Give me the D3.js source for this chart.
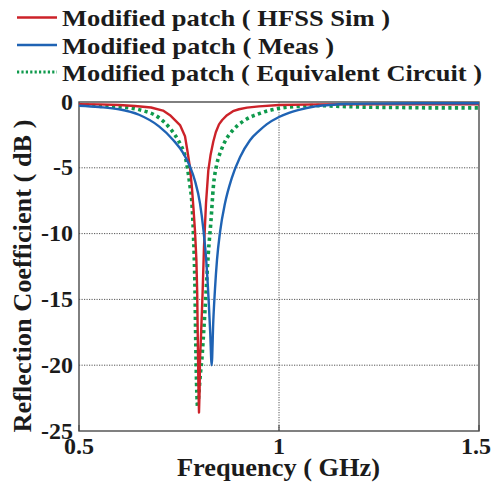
<!DOCTYPE html>
<html>
<head>
<meta charset="utf-8">
<script src="https://cdn.jsdelivr.net/npm/d3@7"></script>
<style>
  html, body { margin: 0; padding: 0; background: #fff; }
  svg { display: block; }
  text { font-family: "Liberation Serif", "Times New Roman", serif; font-weight: bold; fill: #1b1b1b; }
</style>
</head>
<body>
<div id="chart"></div>
<script>
// Reflection coefficient of the modified patch antenna: simulation, measurement and circuit model.
const seriesNames = [
  "Modified patch ( HFSS Sim )",
  "Modified patch ( Meas )",
  "Modified patch ( Equivalent Circuit )"
];

const xTicks = [0.5, 1, 1.5];
const xTickLabels = ["0.5", "1", "1.5"];
const yTicks = [0, -5, -10, -15, -20, -25];
const yTickLabels = ["0", "-5", "-10", "-15", "-20", "-25"];

// HFSS simulation (GHz, dB)
const freqSim = [0.50, 0.55, 0.60, 0.64, 0.68, 0.71, 0.7275, 0.7525, 0.765, 0.771, 0.7775, 0.782,
  0.786, 0.79, 0.7935, 0.7955, 0.797, 0.7985, 0.80, 0.8015, 0.8025, 0.805, 0.809, 0.8125, 0.8175,
  0.8233, 0.829, 0.8358, 0.842, 0.85, 0.858, 0.87, 0.885, 0.90, 0.92, 0.95, 1.0, 1.1, 1.2, 1.3, 1.4, 1.5];
const s11Sim = [-0.17, -0.18, -0.23, -0.3, -0.42, -0.65, -1.0, -1.75, -2.6, -3.7, -5.0, -6.4,
  -8.0, -9.8, -12.0, -14.5, -18.0, -21.5, -23.6, -22.0, -19.5, -17.8, -14.5, -11.0, -7.7,
  -5.2, -4.0, -3.0, -2.3, -1.7, -1.37, -1.0, -0.7, -0.55, -0.43, -0.33, -0.23, -0.18, -0.17, -0.17, -0.17, -0.17];

// Measurement (GHz, dB)
const freqMeas = [0.50, 0.55, 0.60, 0.65, 0.70, 0.736, 0.761, 0.7775, 0.79, 0.8025, 0.811, 0.818,
  0.824, 0.828, 0.8317, 0.8358, 0.84, 0.845, 0.8525, 0.865, 0.8817, 0.9025, 0.9275, 0.95,
  0.969, 1.0, 1.025, 1.05, 1.085, 1.125, 1.167, 1.25, 1.35, 1.5];
const s11Meas = [-0.28, -0.38, -0.55, -0.97, -1.85, -2.9, -3.9, -4.9, -6.0, -7.7, -9.7, -12.0,
  -15.0, -17.5, -20.0, -16.6, -14.2, -12.0, -9.9, -7.7, -5.8, -4.2, -2.9, -2.2,
  -1.7, -1.14, -0.82, -0.6, -0.36, -0.23, -0.15, -0.12, -0.1, -0.1];

// Equivalent circuit model (GHz, dB)
const freqCirc = [0.50, 0.55, 0.60, 0.65, 0.70, 0.7275, 0.748, 0.755, 0.765, 0.771, 0.7775, 0.7817,
  0.786, 0.79, 0.792, 0.7945, 0.7965, 0.80, 0.804, 0.807, 0.811, 0.8175, 0.8233, 0.83, 0.836,
  0.844, 0.855, 0.865, 0.886, 0.911, 0.9525, 1.0, 1.05, 1.09, 1.15, 1.2, 1.3, 1.4, 1.5];
const s11Circ = [-0.23, -0.28, -0.36, -0.58, -1.2, -2.0, -2.9, -3.3, -4.1, -5.0, -6.4, -7.45,
  -10.0, -14.3, -18.5, -22.0, -23.2, -22.0, -20.5, -19.6, -17.8, -14.5, -11.5, -9.0, -6.4,
  -4.8, -3.7, -3.0, -2.1, -1.45, -0.86, -0.48, -0.33, -0.27, -0.33, -0.38, -0.42, -0.45, -0.45];

const W = 492, H = 485;
const plot = { left: 79, right: 479, top: 102, bottom: 431 };

const svg = d3.select("#chart").append("svg")
  .attr("width", W).attr("height", H);

const x = d3.scaleLinear().domain([0.5, 1.5]).range([plot.left, plot.right]);
const y = d3.scaleLinear().domain([-25, 0]).range([plot.bottom, plot.top]);

// dotted grid
const grid = svg.append("g");
grid.selectAll("line.h").data(yTicks.filter(v => v !== 0 && v !== -25)).enter()
  .append("line")
  .attr("x1", plot.left).attr("x2", plot.right)
  .attr("y1", d => y(d)).attr("y2", d => y(d))
  .attr("stroke", "#555").attr("stroke-width", 1).attr("stroke-dasharray", "1.2,1.3");
grid.selectAll("line.v").data(xTicks.filter(v => v !== 0.5 && v !== 1.5)).enter()
  .append("line")
  .attr("x1", d => x(d)).attr("x2", d => x(d))
  .attr("y1", plot.top).attr("y2", plot.bottom)
  .attr("stroke", "#555").attr("stroke-width", 1).attr("stroke-dasharray", "1.2,1.3");

// frame
svg.append("rect")
  .attr("x", plot.left).attr("y", plot.top)
  .attr("width", plot.right - plot.left).attr("height", plot.bottom - plot.top)
  .attr("fill", "none").attr("stroke", "#4a4a4a").attr("stroke-width", 1.4);

// small tick marks on the frequency axis
svg.append("g").selectAll("line").data(xTicks).enter().append("line")
  .attr("x1", d => x(d)).attr("x2", d => x(d))
  .attr("y1", plot.bottom).attr("y2", plot.bottom - 6)
  .attr("stroke", "#4a4a4a").attr("stroke-width", 1.2);

// curves: the simulated trace keeps its raw sampling, the others are smoothed
const linear = d3.line().x(d => x(d[0])).y(d => y(d[1]));
const smooth = d3.line().x(d => x(d[0])).y(d => y(d[1])).curve(d3.curveMonotoneX);
const curves = [
  { f: freqCirc, s: s11Circ, color: "#0f9a4c", width: 3.6, dash: "3.2,3.4", gen: smooth },
  { f: freqSim,  s: s11Sim,  color: "#cc2229", width: 2.4, dash: null, gen: linear },
  { f: freqMeas, s: s11Meas, color: "#1f63b4", width: 2.4, dash: null, gen: smooth }
];
curves.forEach(c => {
  svg.append("path")
    .datum(d3.zip(c.f, c.s))
    .attr("d", c.gen)
    .attr("fill", "none")
    .attr("stroke", c.color)
    .attr("stroke-width", c.width)
    .attr("stroke-linejoin", "round")
    .attr("stroke-dasharray", c.dash);
});

// tick labels
svg.append("g").selectAll("text").data(yTicks).enter().append("text")
  .attr("x", 73).attr("y", d => y(d) + 7.5)
  .attr("text-anchor", "end").attr("font-size", 24)
  .text((d, i) => yTickLabels[i]);

svg.append("g").selectAll("text").data(xTicks).enter().append("text")
  .attr("x", d => d === 1.5 ? W - 1 : x(d)).attr("y", 454)
  .attr("text-anchor", d => d === 1.5 ? "end" : "middle").attr("font-size", 24)
  .text((d, i) => xTickLabels[i]);

// axis titles
svg.append("text")
  .attr("x", 278.5).attr("y", 476)
  .attr("text-anchor", "middle").attr("font-size", 25)
  .attr("textLength", 203).attr("lengthAdjust", "spacingAndGlyphs")
  .text("Frequency ( GHz)");

svg.append("text")
  .attr("transform", "translate(31,276) rotate(-90)")
  .attr("text-anchor", "middle").attr("font-size", 25)
  .attr("textLength", 313).attr("lengthAdjust", "spacingAndGlyphs")
  .text("Reflection Coefficient ( dB )");

// legend
const legendRows = [
  { name: seriesNames[0], color: "#cc2229", width: 2.4, dash: null, ly: 17.5, ty: 26, len: 328 },
  { name: seriesNames[1], color: "#1f63b4", width: 2.4, dash: null, ly: 45, ty: 53.5, len: 272 },
  { name: seriesNames[2], color: "#0f9a4c", width: 3, dash: "2.2,2.2", ly: 72, ty: 81, len: 420 }
];
const legend = svg.append("g");
legendRows.forEach(r => {
  legend.append("line")
    .attr("x1", 17).attr("x2", 57).attr("y1", r.ly).attr("y2", r.ly)
    .attr("stroke", r.color).attr("stroke-width", r.width)
    .attr("stroke-dasharray", r.dash);
  legend.append("text")
    .attr("x", 62).attr("y", r.ty).attr("font-size", 24)
    .attr("textLength", r.len).attr("lengthAdjust", "spacingAndGlyphs")
    .text(r.name);
});
</script>
</body>
</html>
